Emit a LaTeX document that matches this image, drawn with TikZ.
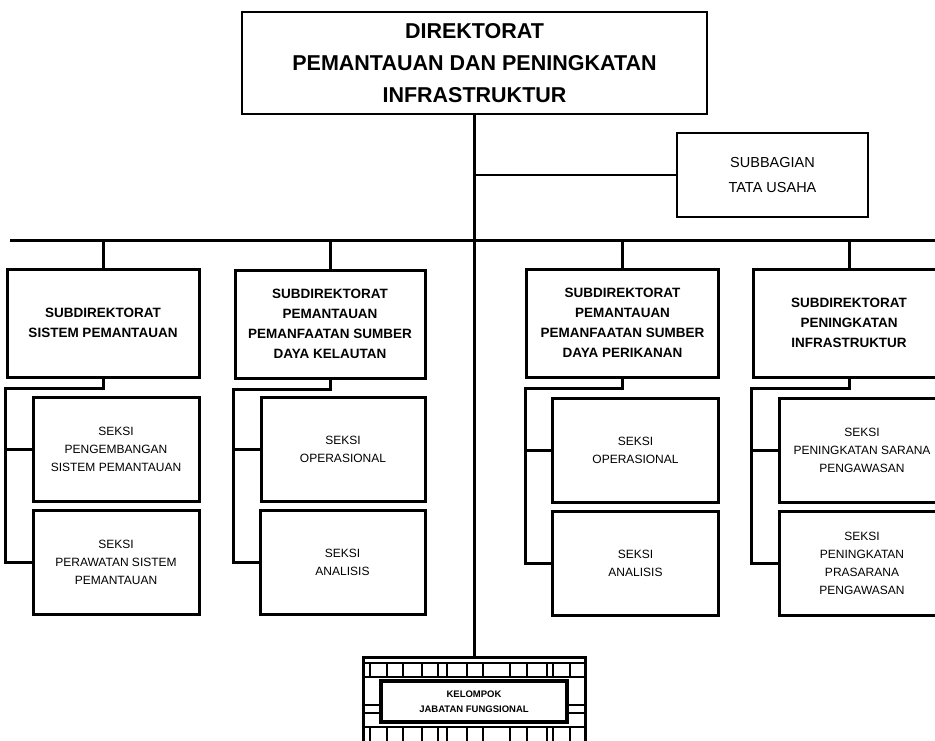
\documentclass[tikz,border=0pt]{standalone}
\usepackage{fontspec}
\setmainfont{Liberation Sans}
\usetikzlibrary{positioning}

\tikzset{
  kotak/.style={draw, rectangle, line width=3pt, inner sep=0pt, align=center},
  direktur/.style={kotak, line width=1.3pt, minimum width=465pt, minimum height=102pt,
    font=\fontsize{21.5}{32}\selectfont\bfseries},
  subdit/.style={kotak, minimum width=192pt, minimum height=108pt,
    font=\fontsize{13.5}{20}\selectfont\bfseries},
  seksi/.style={kotak, minimum width=166pt, minimum height=104pt,
    font=\fontsize{12}{18}\selectfont},
  tatausaha/.style={kotak, line width=2.6pt, minimum width=191pt, minimum height=84pt,
    font=\fontsize{14.5}{25}\selectfont},
  garis/.style={line width=3pt},
}

\begin{document}
\begin{tikzpicture}[x=1pt,y=-1pt]

\clip (0,0) rectangle (935,740);

% Direktorat
\node[direktur] (dir) at (474.5,63) {DIREKTORAT\\PEMANTAUAN DAN PENINGKATAN\\INFRASTRUKTUR};

% Subbagian Tata Usaha
\node[tatausaha] (tu) at (772.5,175) {SUBBAGIAN\\TATA USAHA};

% Subdirektorat
\node[subdit] (sd1) at (103,323) {SUBDIREKTORAT\\SISTEM PEMANTAUAN};
\node[subdit, minimum width=190pt] (sd2) at (330,324) {SUBDIREKTORAT\\PEMANTAUAN\\PEMANFAATAN SUMBER\\DAYA KELAUTAN};
\node[subdit] (sd3) at (622.5,323) {SUBDIREKTORAT\\PEMANTAUAN\\PEMANFAATAN SUMBER\\DAYA PERIKANAN};
\node[subdit] (sd4) at (849,323) {SUBDIREKTORAT\\PENINGKATAN\\INFRASTRUKTUR};

% Seksi
\node[seksi] (atas1) at (116,449.5) {SEKSI\\PENGEMBANGAN\\SISTEM PEMANTAUAN};
\node[seksi] (bawah1) at (116,562.5) {SEKSI\\PERAWATAN SISTEM\\PEMANTAUAN};
\node[seksi, minimum width=164pt] (atas2) at (343,449) {SEKSI\\OPERASIONAL};
\node[seksi, minimum width=165pt] (bawah2) at (342.5,562.5) {SEKSI\\ANALISIS};
\node[seksi] (atas3) at (635.5,450) {SEKSI\\OPERASIONAL};
\node[seksi] (bawah3) at (635.5,563.5) {SEKSI\\ANALISIS};
\node[seksi] (atas4) at (862,450) {SEKSI\\PENINGKATAN SARANA\\PENGAWASAN};
\node[seksi] (bawah4) at (862,563) {SEKSI\\PENINGKATAN\\PRASARANA\\PENGAWASAN};

% Kelompok Jabatan Fungsional
\node[kotak, minimum width=222pt, minimum height=100pt] (kel) at (474,707) {};
\draw[line width=1.6pt] (363,663) -- (585,663) (363,677) -- (585,677) (363,727) -- (585,727)
  (363,705) -- (381,705) (363,713) -- (381,713) (567,705) -- (585,705) (567,713) -- (585,713);
\foreach \gx in {370,387,403,422,438,447,467,483,510,527,547,553,570} {
  \draw[line width=1.6pt] (\gx,663) -- (\gx,677);
  \draw[line width=1.6pt] (\gx,727) -- (\gx,745);
}
\node[kotak, line width=3.4pt, fill=white, minimum width=186pt, minimum height=41pt,
  font=\fontsize{9.5}{15}\selectfont\bfseries] (jf) at (474,701.5) {KELOMPOK\\JABATAN FUNGSIONAL};

% Garis utama
\coordinate (busL) at (10,240);
\coordinate (busR) at (940,240);
\draw[garis] (dir.south) -- (dir.south |- kel.north);
\draw[line width=2.2pt] (dir.south |- tu.west) -- (tu.west);
\draw[garis] (busL) -- (busR);

% Garis ke subdirektorat dan seksi
\foreach \k in {1,...,4} {
  \draw[garis] (sd\k.north) -- (sd\k.north |- busL);
  \draw[garis] (sd\k.south) -- ++(0,10) -| (sd\k.west |- bawah\k.west) -- (bawah\k.west);
  \draw[garis] (sd\k.west |- atas\k.west) -- (atas\k.west);
}
\end{tikzpicture}
\end{document}
